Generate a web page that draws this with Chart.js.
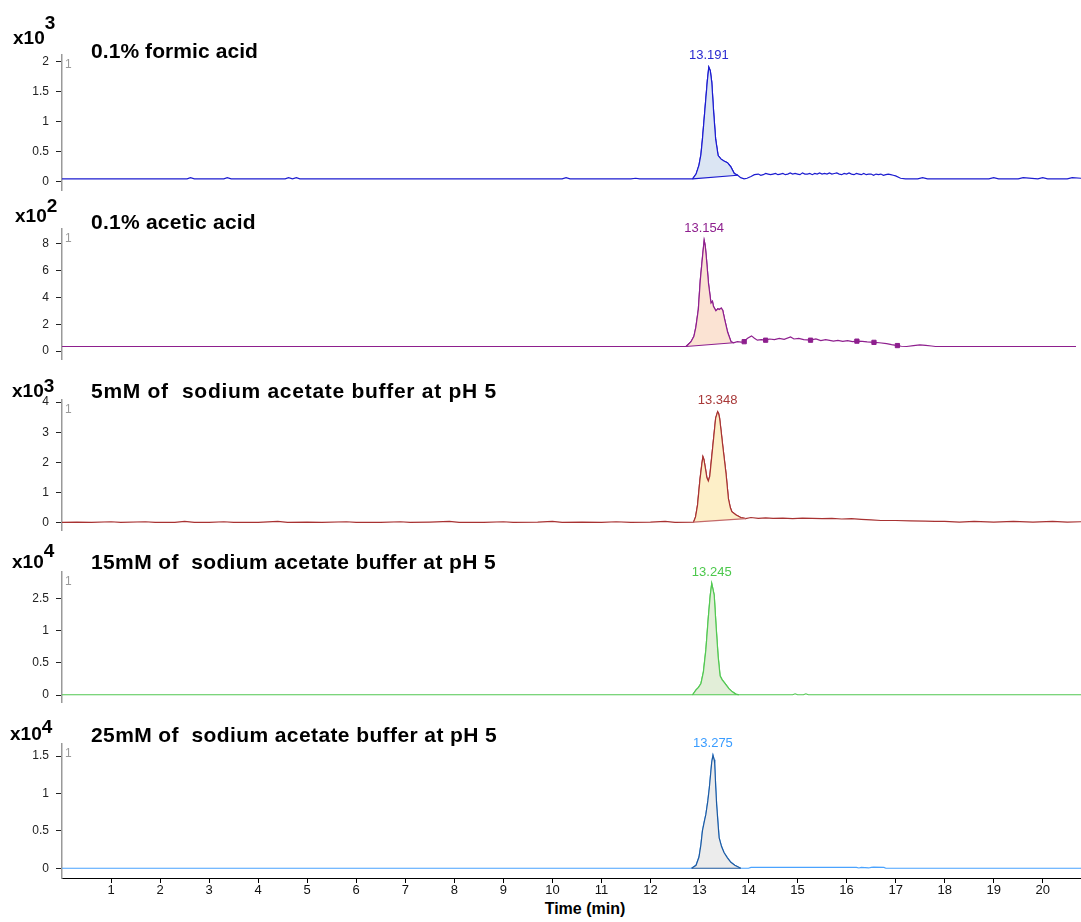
<!DOCTYPE html>
<html>
<head>
<meta charset="utf-8">
<script src="https://cdn.jsdelivr.net/npm/chart.js@4.4.1/dist/chart.umd.min.js"></script>
<style>
  body { margin: 0; background: #fff; width: 1081px; height: 922px; overflow: hidden; position: relative; }
  canvas { position: absolute; left: 0; }
  .title { position: absolute; left: 91px; font: bold 21px "Liberation Sans", Arial, sans-serif; line-height: 21px; color: #000; white-space: pre; z-index: 2; }
  .exp { position: absolute; font: bold 19px "Liberation Sans", Arial, sans-serif; line-height: 19px; color: #000; white-space: pre; z-index: 2; }
  .exp span { position: relative; }
  #xtitle { position: absolute; top: 900px; left: 485px; width: 200px; text-align: center; font: bold 16px "Liberation Sans", Arial, sans-serif; line-height: 18px; color: #000; }
</style>
</head>
<body>
<div id="xtitle">Time (min)</div>
<script>
// --- data (time in min, signal in axis units) ---
const panelTitles = [
  '0.1% formic acid',
  '0.1% acetic acid',
  '5mM of  sodium acetate buffer at pH 5',
  '15mM of  sodium acetate buffer at pH 5',
  '25mM of  sodium acetate buffer at pH 5'
];
const exponents = ['3', '2', '3', '4', '4'];
const peakLabels = ['13.191', '13.154', '13.348', '13.245', '13.275'];
const timeTicks = [1, 2, 3, 4, 5, 6, 7, 8, 9, 10, 11, 12, 13, 14, 15, 16, 17, 18, 19, 20];

const formicTicks = [0, 0.5, 1, 1.5, 2];
const aceticTicks = [0, 2, 4, 6, 8];
const na5Ticks = [0, 1, 2, 3, 4];
const na15Ticks = [0, 0.5, 1, 1.5];
const na15TickLabels = ['0', '0.5', '1', '2.5'];
const na25Ticks = [0, 0.5, 1, 1.5];

const formicTime = [0, 0.6, 1.2, 1.8, 2.4, 2.55, 2.62, 2.7, 3.2, 3.3, 3.37, 3.45, 4.0, 4.55, 4.62, 4.7, 4.78, 4.85, 5.5, 6.2, 7.0, 7.8, 8.5, 9.3, 10.0, 10.2, 10.28, 10.36, 11.0, 11.6, 11.7, 11.78, 11.85, 12.3, 12.6,
  12.86, 12.93, 12.99, 13.03, 13.06, 13.11, 13.16, 13.19, 13.22, 13.25, 13.29, 13.33, 13.38, 13.44, 13.5, 13.57, 13.64, 13.71, 13.78, 13.84, 13.91, 13.97, 14.05, 14.12,
  14.2, 14.25, 14.3, 14.35, 14.4, 14.45, 14.5, 14.55, 14.6, 14.65, 14.7, 14.75, 14.8, 14.85, 14.9, 14.95, 15.0, 15.05, 15.1, 15.15, 15.2, 15.25, 15.3, 15.35, 15.4, 15.45, 15.5, 15.55, 15.6, 15.65,
  15.7, 15.75, 15.8, 15.85, 15.9, 15.95, 16.0, 16.05, 16.1, 16.15, 16.2, 16.25, 16.3, 16.35, 16.4, 16.45, 16.5, 16.55, 16.6, 16.65, 16.7, 16.75, 16.8, 16.85, 16.9, 16.95, 17.0, 17.1,
  17.2, 17.45, 17.55, 17.65, 18.0, 18.5, 18.9, 19.0, 19.1, 19.5, 19.6, 19.9, 20.0, 20.1, 20.5, 20.6, 20.78];
const formicSignal = [0.04, 0.04, 0.04, 0.04, 0.04, 0.04, 0.06, 0.04, 0.04, 0.04, 0.06, 0.04, 0.04, 0.04, 0.06, 0.04, 0.06, 0.04, 0.04, 0.04, 0.04, 0.04, 0.04, 0.04, 0.04, 0.04, 0.06, 0.04, 0.04, 0.04, 0.05, 0.04, 0.04, 0.04, 0.04,
  0.04, 0.12, 0.27, 0.45, 0.70, 1.19, 1.68, 1.91, 1.85, 1.66, 1.14, 0.70, 0.43, 0.37, 0.34, 0.31, 0.24, 0.13, 0.10, 0.06, 0.04, 0.05, 0.08, 0.11,
  0.12, 0.10, 0.11, 0.13, 0.12, 0.11, 0.12, 0.13, 0.11, 0.12, 0.13, 0.11, 0.12, 0.14, 0.12, 0.13, 0.12, 0.11, 0.14, 0.12, 0.12, 0.13, 0.11, 0.13, 0.12, 0.14, 0.12, 0.13, 0.12, 0.14,
  0.12, 0.13, 0.14, 0.12, 0.11, 0.13, 0.12, 0.14, 0.12, 0.11, 0.13, 0.12, 0.11, 0.13, 0.11, 0.12, 0.12, 0.10, 0.12, 0.11, 0.12, 0.10, 0.11, 0.12, 0.11, 0.10, 0.09, 0.05,
  0.04, 0.04, 0.06, 0.04, 0.04, 0.04, 0.04, 0.06, 0.04, 0.04, 0.06, 0.04, 0.06, 0.04, 0.04, 0.06, 0.05];
const formicBaseTime = [12.86, 13.78];
const formicBaseSignal = [0.04, 0.10];

const aceticTime = [0, 2, 4, 6, 8, 10, 12, 12.5, 12.79, 12.89, 12.95, 12.99, 13.04, 13.08, 13.13, 13.16, 13.18, 13.2, 13.25, 13.3, 13.33, 13.35, 13.4, 13.44, 13.47, 13.51, 13.54, 13.58, 13.64, 13.71, 13.76,
  13.84, 13.92, 13.98, 14.05, 14.13, 14.19, 14.25, 14.33, 14.42, 14.5, 14.6, 14.7, 14.8, 14.93, 15.0, 15.1, 15.2, 15.34, 15.45, 15.55, 15.65, 15.81, 15.9, 16.0, 16.1, 16.2, 16.29, 16.4, 16.5, 16.64, 16.75,
  16.9, 17.0, 17.12, 17.2, 17.31, 17.45, 17.58, 17.7, 17.82, 17.9, 18.5, 19.5, 20.78];
const aceticSignal = [0.34, 0.34, 0.34, 0.34, 0.34, 0.34, 0.34, 0.34, 0.34, 0.70, 1.10, 1.78, 3.09, 5.25, 7.17, 8.25, 7.90, 7.17, 5.00, 3.57, 3.70, 3.33, 3.00, 3.15, 3.10, 3.20, 3.05, 2.37, 1.42, 0.70, 0.62,
  0.70, 0.66, 0.74, 0.95, 1.13, 0.95, 0.81, 0.85, 0.81, 0.90, 0.85, 0.95, 0.88, 1.05, 0.90, 0.95, 0.85, 0.81, 0.90, 0.78, 0.85, 0.74, 0.80, 0.72, 0.78, 0.70, 0.74, 0.72, 0.68, 0.65, 0.62,
  0.55, 0.48, 0.41, 0.36, 0.34, 0.40, 0.46, 0.42, 0.38, 0.34, 0.34, 0.34, 0.34];
const aceticBaseTime = [12.79, 13.76];
const aceticBaseSignal = [0.34, 0.62];
const aceticMarkTime = [13.98, 14.42, 15.34, 16.29, 16.64, 17.12];
const aceticMarkSignal = [0.70, 0.81, 0.81, 0.74, 0.65, 0.41];

const na5Time = [0, 0.3, 0.6, 1.0, 1.2, 1.7, 1.9, 2.3, 2.5, 2.7, 3.0, 3.3, 3.5, 4.0, 4.4, 4.6, 5.0, 5.3, 5.8, 6.0, 6.5, 6.9, 7.1, 7.5, 7.9, 8.1, 8.6, 9.0, 9.2, 9.7, 10.0, 10.2, 10.6, 11.0, 11.3, 11.6, 12.0, 12.3, 12.5,
  12.88, 12.92, 12.96, 13.01, 13.05, 13.07, 13.09, 13.12, 13.15, 13.18, 13.21, 13.23, 13.26, 13.29, 13.33, 13.37, 13.39, 13.41, 13.44, 13.47, 13.54, 13.59, 13.63, 13.66, 13.74, 13.84, 13.94,
  14.05, 14.2, 14.35, 14.5, 14.7, 14.9, 15.1, 15.3, 15.5, 15.7, 15.9, 16.1, 16.3, 16.5, 16.7, 17.0, 17.3, 17.6, 17.8, 18.0, 18.3, 18.6, 19.0, 19.4, 19.8, 20.2, 20.5, 20.78];
const na5Signal = [0.02, 0.03, 0.02, 0.04, 0.02, 0.04, 0.02, 0.02, 0.05, 0.02, 0.02, 0.04, 0.02, 0.02, 0.05, 0.02, 0.03, 0.02, 0.04, 0.02, 0.02, 0.04, 0.02, 0.03, 0.05, 0.02, 0.02, 0.04, 0.02, 0.03, 0.05, 0.02, 0.03, 0.02, 0.04, 0.02, 0.03, 0.05, 0.02,
  0.03, 0.20, 0.59, 1.44, 1.97, 2.19, 2.10, 1.81, 1.50, 1.39, 1.55, 1.87, 2.35, 2.83, 3.47, 3.68, 3.62, 3.47, 3.05, 2.61, 1.65, 0.80, 0.50, 0.37, 0.27, 0.18, 0.14,
  0.18, 0.15, 0.17, 0.15, 0.16, 0.14, 0.16, 0.15, 0.14, 0.15, 0.13, 0.14, 0.12, 0.10, 0.08, 0.08, 0.07, 0.06, 0.05, 0.05, 0.03, 0.05, 0.03, 0.05, 0.03, 0.05, 0.03, 0.04];
const na5BaseTime = [12.88, 13.94];
const na5BaseSignal = [0.03, 0.14];

const na15Time = [0, 4, 8, 12, 12.86, 12.93, 12.98, 13.03, 13.08, 13.13, 13.18, 13.22, 13.25, 13.3, 13.34, 13.38, 13.42, 13.46, 13.5, 13.55, 13.6, 13.67, 13.74, 13.8,
  14.9, 14.95, 15.0, 15.12, 15.17, 15.22, 17, 20.78];
const na15Signal = [0.005, 0.005, 0.005, 0.005, 0.005, 0.08, 0.12, 0.18, 0.36, 0.70, 1.20, 1.55, 1.73, 1.55, 1.05, 0.60, 0.30, 0.24, 0.20, 0.15, 0.10, 0.05, 0.015, 0.005,
  0.005, 0.02, 0.005, 0.005, 0.02, 0.005, 0.005, 0.005];
const na15BaseTime = [12.86, 13.8];
const na15BaseSignal = [0.005, 0.005];

const na25Time = [0, 4, 8, 12, 12.84, 12.93, 12.99, 13.03, 13.06, 13.1, 13.13, 13.17, 13.2, 13.23, 13.25, 13.275, 13.3, 13.31, 13.33, 13.35, 13.38, 13.4, 13.45, 13.5, 13.57, 13.64, 13.72, 13.84,
  14.0, 14.05, 16.2, 16.25, 16.3, 16.45, 16.5, 16.55, 16.76, 16.8, 20.78];
const na25Signal = [0, 0, 0, 0, 0, 0.04, 0.15, 0.32, 0.50, 0.63, 0.72, 0.90, 1.07, 1.28, 1.42, 1.51, 1.45, 1.40, 1.10, 0.85, 0.58, 0.41, 0.29, 0.21, 0.14, 0.08, 0.04, 0,
  0, 0.012, 0.012, 0.004, 0.012, 0.004, 0.012, 0.014, 0.012, 0, 0];
const na25BaseTime = [12.84, 13.84];
const na25BaseSignal = [0, 0];

// --- panel styling and placement ---
const panels = [
  { time: formicTime, signal: formicSignal, baseT: formicBaseTime, baseS: formicBaseSignal, ticks: formicTicks, labels: formicTicks,
    line: '#1c1cd0', peakLine: '#1c1cd0', fill: '#dbe5f3', base: '#1c1cd0', label: '#2a2ad0',
    top: 53, bottom: 193, min: -0.16, max: 2.11, titleBase: 58, titleEnd: 258, expX: 13, expBase: 44, raise: 15 },
  { time: aceticTime, signal: aceticSignal, baseT: aceticBaseTime, baseS: aceticBaseSignal, ticks: aceticTicks, labels: aceticTicks,
    line: '#8e1f8e', peakLine: '#8e1f8e', fill: '#fbe3d3', base: '#8e1f8e', label: '#8e1f8e',
    marks: { t: aceticMarkTime, s: aceticMarkSignal },
    top: 227, bottom: 362, min: -0.65, max: 9.08, titleBase: 229, titleEnd: 256, expX: 15, expBase: 222, raise: 10 },
  { time: na5Time, signal: na5Signal, baseT: na5BaseTime, baseS: na5BaseSignal, ticks: na5Ticks, labels: na5Ticks,
    line: '#a83232', peakLine: '#a83232', fill: '#fdefc8', base: '#c46a6a', label: '#a83838',
    top: 398, bottom: 533, min: -0.26, max: 4.06, titleBase: 398, titleEnd: 497, expX: 12, expBase: 397, raise: 5 },
  { time: na15Time, signal: na15Signal, baseT: na15BaseTime, baseS: na15BaseSignal, ticks: na15Ticks, labels: na15TickLabels,
    line: '#52c852', peakLine: '#52c852', fill: '#e2eed8', base: '#52c852', label: '#4cc84c',
    top: 570, bottom: 705, min: -0.12, max: 1.905, titleBase: 569, titleEnd: 496, expX: 12, expBase: 568, raise: 11 },
  { time: na25Time, signal: na25Signal, baseT: na25BaseTime, baseS: na25BaseSignal, ticks: na25Ticks, labels: na25Ticks,
    line: '#4aa3ff', peakLine: '#1e5aa0', fill: '#ececec', base: '#1e5aa0', label: '#3a9cff',
    top: 742, bottom: 878, min: -0.13, max: 1.658, titleBase: 742, titleEnd: 497, expX: 10, expBase: 740, raise: 7 }
];

const toPoints = (ts, vs) => ts.map((t, i) => ({ x: t, y: vs[i] }));

const peakLabelPlugin = {
  id: 'peakLabel',
  afterDatasetsDraw(chart, args, opts) {
    const pts = chart.data.datasets[0].data;
    let apex = pts[0];
    pts.forEach(p => { if (p.y > apex.y) apex = p; });
    const { ctx, scales } = chart;
    ctx.save();
    ctx.font = '13px "Liberation Sans", Arial, sans-serif';
    ctx.fillStyle = opts.color;
    ctx.textAlign = 'center';
    ctx.textBaseline = 'bottom';
    ctx.fillText(opts.text, scales.x.getPixelForValue(apex.x), scales.y.getPixelForValue(apex.y) - 5);
    // small grey trace index next to the axis
    ctx.font = '12px "Liberation Sans", Arial, sans-serif';
    ctx.fillStyle = '#9a9a9a';
    ctx.textAlign = 'left';
    ctx.textBaseline = 'top';
    ctx.fillText('1', chart.chartArea.left + 3, chart.chartArea.top + 3);
    ctx.restore();
  }
};

panels.forEach((p, i) => {
  const isLast = i === panels.length - 1;
  const pad = 12;
  const top = p.top - pad;
  const height = isLast ? 922 - top : (p.bottom - p.top) + 2 * pad;

  const canvas = document.createElement('canvas');
  canvas.width = 1081;
  canvas.height = height;
  canvas.style.top = top + 'px';
  document.body.appendChild(canvas);

  const title = document.createElement('div');
  title.className = 'title';
  title.textContent = panelTitles[i];
  title.style.top = (p.titleBase - 18) + 'px';
  document.body.appendChild(title);
  // stretch the substitute font a little so the title ends where the original does
  const w = title.getBoundingClientRect().width;
  const spacing = (p.titleEnd - 91 - w) / panelTitles[i].length;
  title.style.letterSpacing = Math.max(-0.5, spacing).toFixed(2) + 'px';

  const exp = document.createElement('div');
  exp.className = 'exp';
  exp.style.left = p.expX + 'px';
  exp.style.top = (p.expBase - 16) + 'px';
  exp.innerHTML = 'x10<span style="top:-' + p.raise + 'px">' + exponents[i] + '</span>';
  document.body.appendChild(exp);

  const peakT = p.time.filter(t => t >= p.baseT[0] && t <= p.baseT[1]);
  const peakS = p.signal.filter((v, k) => p.time[k] >= p.baseT[0] && p.time[k] <= p.baseT[1]);

  const datasets = [
    { data: toPoints(p.time, p.signal), borderColor: p.line, borderWidth: 1.2, pointRadius: 0, fill: false, order: 3 },
    { data: toPoints(peakT, peakS), borderColor: p.peakLine, borderWidth: 1.2, pointRadius: 0, fill: 2, backgroundColor: p.fill, order: 2 },
    { data: toPoints(p.baseT, p.baseS), borderColor: p.base, borderWidth: 1.2, pointRadius: 0, fill: false, order: 1 }
  ];
  if (p.marks) {
    datasets.push({ type: 'scatter', data: toPoints(p.marks.t, p.marks.s), pointStyle: 'rect', pointRadius: 3,
      backgroundColor: p.line, borderColor: p.line, showLine: false, order: 0 });
  }

  const xScale = { type: 'linear', min: 0, max: 20.78, display: isLast };
  if (isLast) {
    Object.assign(xScale, {
      afterBuildTicks: s => { s.ticks = timeTicks.map(v => ({ value: v })); },
      afterFit: s => { s.height = 44; },
      border: { display: true, color: '#000', width: 1 },
      grid: { display: true, drawOnChartArea: false, drawTicks: true, tickLength: 5, color: '#000' },
      ticks: { padding: 0, color: '#111', font: { family: '"Liberation Sans", Arial, sans-serif', size: 13 }, maxRotation: 0, autoSkip: false }
    });
  }

  new Chart(canvas.getContext('2d'), {
    type: 'line',
    data: { datasets },
    options: {
      responsive: false,
      animation: false,
      events: [],
      elements: { line: { tension: 0 } },
      layout: { padding: { top: pad, bottom: isLast ? 0 : pad, left: 0, right: 0 } },
      plugins: {
        legend: { display: false },
        tooltip: { enabled: false },
        peakLabel: { text: peakLabels[i], color: p.label }
      },
      scales: {
        x: xScale,
        y: {
          type: 'linear',
          min: p.min,
          max: p.max,
          afterFit: s => { s.width = 62; },
          afterBuildTicks: s => { s.ticks = p.ticks.map(v => ({ value: v })); },
          border: { display: true, color: '#999', width: 1.5 },
          grid: { display: true, drawOnChartArea: false, drawTicks: true, tickLength: 6, color: '#222' },
          ticks: {
            padding: 7,
            color: '#222',
            font: { family: '"Liberation Sans", Arial, sans-serif', size: 12 },
            callback: v => String(p.labels[p.ticks.indexOf(v)])
          }
        }
      }
    },
    plugins: [peakLabelPlugin]
  });
});
</script>
</body>
</html>
